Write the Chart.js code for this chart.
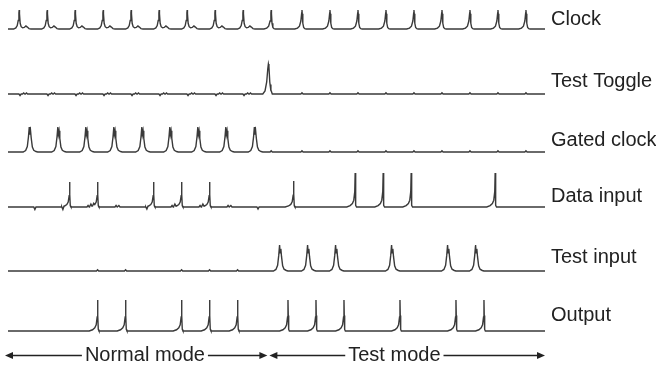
<!DOCTYPE html>
<html>
<head>
<meta charset="utf-8">
<script src="https://cdn.jsdelivr.net/npm/chart.js@4/dist/chart.umd.min.js"></script>
<style>
  html, body { margin: 0; padding: 0; background: #fff; }
  #wrap { width: 656px; height: 369px; }
</style>
</head>
<body>
<div id="wrap"><canvas id="waveCanvas" width="656" height="369"></canvas></div>
<script>
// signal names (right hand labels)
var signalNames = ['Clock', 'Test Toggle', 'Gated clock', 'Data input', 'Test input', 'Output'];

// pulse times in ns (one clock period = 10 ns)
var clockTimes = [4, 14, 24, 34, 44, 54, 64, 74, 84, 94, 105, 115, 125, 135, 145, 155, 165, 175, 185];
var toggleTime = 93;
var gatedTimes = [7.6, 17.8, 27.8, 37.8, 47.8, 57.8, 67.8, 77.8, 88];
var dataTimes = [22, 32, 52, 62, 72, 102, 124, 134, 144, 174];
var dataAmps = [25, 25, 25, 25, 25, 26, 34, 34, 34, 34];
var testInTimes = [97, 107, 117, 137, 157, 167];
var outputTimes = [32, 42, 62, 72, 82, 100, 110, 120, 140, 160, 170];

// pulse heights (mV)
var clockAmp = 19;
var toggleAmp = 30;
var gatedAmp = 25;
var testInAmp = 26;
var outputAmp = 31;

// small glitches on the data line [time, mV]
var dataGlitches = [[9.6, -2.5], [19.6, -3], [28.6, 1.5], [29.6, 2.5], [30.6, 2], [38.6, 1.5], [39.6, 1.5],
  [49.6, -2.5], [58.6, 1.5], [59.6, 2.5], [68.6, 1.5], [69.6, 2.5], [78.6, 1.5], [79.6, 1.5], [89.3, -2]];
// tiny ticks on the test input line before test mode
var testInTicks = [32, 42, 62, 72, 82];

// mode captions and where their text is centred (ns)
var modeNames = ['Normal mode', 'Test mode'];
var modeTextAt = [48.9, 138];

// layout: baseline of each lane (value units from the bottom) and label lift
var laneBase = [340, 275, 217, 162, 98, 38];
var labelLift = [9.5, 13, 12, 11, 14, 16];
var timeSpan = 191.8;

// pulse templates [dt ns, fraction of height]
var clockShapeNormal = [[-2, 0], [-1.2, 0.06], [-0.7, 0.18], [-0.35, 0.45], [-0.1, 0.85], [0, 1], [0.1, 0.8],
  [0.35, 0.3], [0.7, 0.12], [1.2, 0.06], [1.8, 0.08], [2.4, 0.16], [2.9, 0.1], [3.5, 0.02], [4.2, 0]];
var clockShapeTest = [[-2.6, 0], [-1.6, 0.05], [-0.9, 0.15], [-0.4, 0.42], [-0.1, 0.85], [0, 1], [0.1, 0.8],
  [0.3, 0.3], [0.6, 0.08], [1, 0.02], [1.5, 0]];
var gatedShape = [[-2.2, 0], [-1.3, 0.06], [-0.7, 0.22], [-0.3, 0.6], [0, 1], [0.2, 0.7], [0.45, 0.85],
  [0.7, 0.55], [1.1, 0.2], [1.6, 0.07], [2.4, 0.02], [3, 0]];
var spikeShape = [[-3, 0], [-1.8, 0.04], [-1, 0.1], [-0.5, 0.2], [-0.15, 0.45], [0, 1], [0.1, 0.5],
  [0.25, 0.05], [0.5, 0]];
var toggleShape = [[-2, 0], [-1.2, 0.1], [-0.6, 0.4], [-0.2, 0.85], [0, 1], [0.2, 0.9], [0.5, 0.4],
  [0.9, 0.08], [1.4, 0]];
var tickShape = [[-0.4, 0], [0, 1], [0.4, 0]];

function shapeAt(shape, dt) {
  if (dt <= shape[0][0] || dt >= shape[shape.length - 1][0]) return 0;
  for (var i = 1; i < shape.length; i++) {
    if (dt <= shape[i][0]) {
      var a = shape[i - 1], b = shape[i];
      return a[1] + (b[1] - a[1]) * (dt - a[0]) / (b[0] - a[0]);
    }
  }
  return 0;
}

// pulses: list of {t, amp, shape}
function buildTrace(base, pulses) {
  var xs = [0, timeSpan];
  pulses.forEach(function(p) {
    p.shape.forEach(function(s) { xs.push(p.t + s[0]); });
  });
  xs.sort(function(a, b) { return a - b; });
  var pts = [];
  xs.forEach(function(x) {
    var v = 0;
    pulses.forEach(function(p) { v += p.amp * shapeAt(p.shape, x - p.t); });
    pts.push({x: x, y: base + v});
  });
  return pts;
}

var clockPulses = clockTimes.map(function(t) {
  return {t: t, amp: clockAmp, shape: t < toggleTime ? clockShapeNormal : clockShapeTest};
});

var togglePulses = [{t: toggleTime, amp: toggleAmp, shape: toggleShape}];
clockTimes.forEach(function(t) {
  if (t < toggleTime) {
    togglePulses.push({t: t + 0.3, amp: -1.5, shape: tickShape});
    togglePulses.push({t: t + 1.6, amp: 1, shape: tickShape});
    togglePulses.push({t: t + 2.6, amp: 1, shape: tickShape});
  } else {
    togglePulses.push({t: t, amp: 1.3, shape: tickShape});
  }
});

var gatedPulses = gatedTimes.map(function(t) { return {t: t, amp: gatedAmp, shape: gatedShape}; });
clockTimes.forEach(function(t) {
  if (t > toggleTime) gatedPulses.push({t: t, amp: 1.3, shape: tickShape});
});

var dataPulses = dataTimes.map(function(t, i) {
  return {t: t, amp: dataAmps[i], shape: spikeShape};
});
dataGlitches.forEach(function(g) { dataPulses.push({t: g[0], amp: g[1], shape: tickShape}); });

var testInPulses = testInTimes.map(function(t) { return {t: t, amp: testInAmp, shape: gatedShape}; });
testInTicks.forEach(function(t) { testInPulses.push({t: t, amp: 1.2, shape: tickShape}); });

var outputPulses = outputTimes.map(function(t) { return {t: t, amp: outputAmp, shape: spikeShape}; });

var traces = [clockPulses, togglePulses, gatedPulses, dataPulses, testInPulses, outputPulses];

var datasets = traces.map(function(pulses, i) {
  return {
    label: signalNames[i],
    data: buildTrace(laneBase[i], pulses),
    borderColor: '#3a3a3a',
    borderWidth: 1.4,
    pointRadius: 0,
    tension: 0,
    fill: false
  };
});

function arrowHead(ctx, x, y, dir) {
  ctx.beginPath();
  ctx.moveTo(x, y);
  ctx.lineTo(x - dir * 8, y - 3.5);
  ctx.lineTo(x - dir * 8, y + 3.5);
  ctx.closePath();
  ctx.fill();
}

var labelPlugin = {
  id: 'waveLabels',
  afterDraw: function(chart) {
    var ctx = chart.ctx;
    var xs = chart.scales.x, ys = chart.scales.y;
    var area = chart.chartArea;
    ctx.save();
    ctx.fillStyle = '#222222';
    ctx.strokeStyle = '#222222';
    ctx.font = '20px "Liberation Sans", Arial, sans-serif';
    ctx.textBaseline = 'middle';
    ctx.textAlign = 'left';
    signalNames.forEach(function(name, i) {
      ctx.fillText(name, area.right + 6, ys.getPixelForValue(laneBase[i] + labelLift[i]));
    });

    // mode arrows
    var ay = 355.5;
    var mid = xs.getPixelForValue(toggleTime);
    var ends = [[area.left - 3, mid - 1], [mid + 1, area.right]];
    ctx.textAlign = 'center';
    ctx.lineWidth = 1.3;
    modeNames.forEach(function(name, i) {
      var x0 = ends[i][0], x1 = ends[i][1];
      var cx = xs.getPixelForValue(modeTextAt[i]);
      var w = ctx.measureText(name).width;
      ctx.fillText(name, cx, ay);
      ctx.beginPath();
      ctx.moveTo(x0 + 6, ay);
      ctx.lineTo(cx - w / 2 - 3, ay);
      ctx.moveTo(cx + w / 2 + 3, ay);
      ctx.lineTo(x1 - 6, ay);
      ctx.stroke();
      arrowHead(ctx, x0, ay, -1);
      arrowHead(ctx, x1, ay, 1);
    });
    ctx.restore();
  }
};

new Chart(document.getElementById('waveCanvas'), {
  type: 'line',
  data: { datasets: datasets },
  options: {
    responsive: false,
    animation: false,
    layout: { padding: { left: 8, right: 111, top: 0, bottom: 0 } },
    plugins: { legend: { display: false }, tooltip: { enabled: false } },
    scales: {
      x: { type: 'linear', min: 0, max: timeSpan, display: false },
      y: { min: 0, max: 369, display: false }
    }
  },
  plugins: [labelPlugin]
});
</script>
</body>
</html>
